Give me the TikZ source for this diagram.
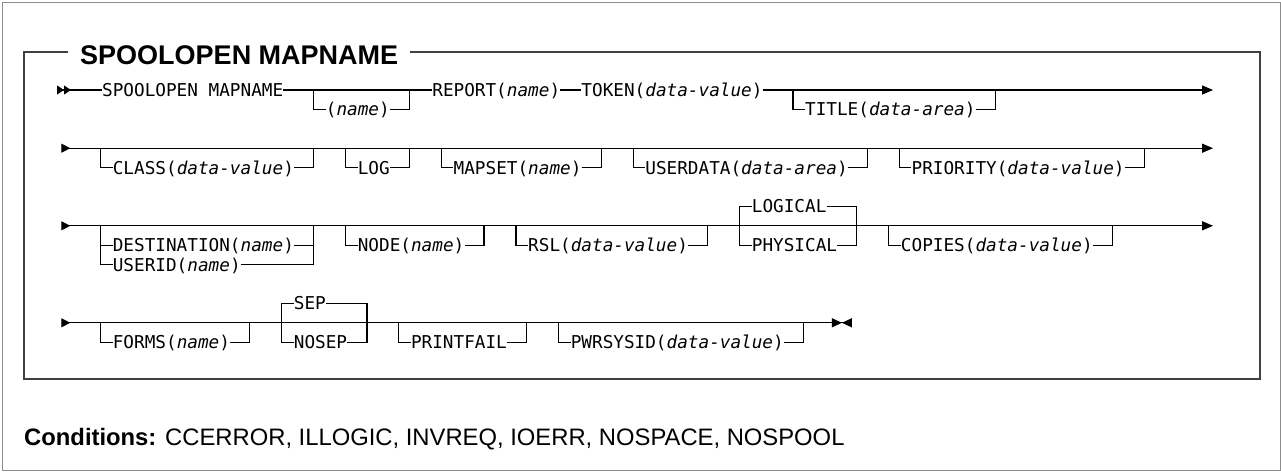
\documentclass[tikz,border=0pt]{standalone}
\usepackage{fontspec}
\setmainfont{Liberation Sans}
\newfontfamily\railfont{DejaVu Sans Mono}
\usetikzlibrary{arrows.meta}

\begin{document}
\begin{tikzpicture}[x=10.65pt,y=-19.4pt,
  rail/.style={draw=black,line width=1.2pt},
  kw/.style={font={\railfont\fontsize{17.69pt}{20pt}\selectfont},inner sep=0pt,
             text height=13pt,text depth=0pt,anchor=west,xshift=-4pt},
  railin/.style={{Triangle[reversed,length=7pt,width=9pt,sep=0pt]Triangle[reversed,length=7pt,width=9pt]}-},
  rowout/.style={-{Triangle[length=11pt,width=9pt]}},
  rowboth/.style={{Triangle[reversed,length=9pt,width=9pt]}-{Triangle[length=11pt,width=9pt]}},
  rowfinal/.style={{Triangle[reversed,length=9pt,width=9pt]}-{Triangle[length=10pt,width=9pt,sep=0pt]Triangle[reversed,length=10pt,width=9pt]}},
  box/.style={draw=black!75,line width=1.5pt},
  frame/.style={draw=black!45,line width=1pt},
  heading/.style={font={\bfseries\fontsize{27pt}{30pt}\selectfont},fill=white,anchor=west,
                  inner xsep=12pt,inner ysep=2pt,text height=19.3pt,text depth=0pt},
  cond/.style={font={\fontsize{23.8pt}{26pt}\selectfont},anchor=west,inner sep=0pt,
               text height=17pt,text depth=0pt}]

\useasboundingbox (-5.953,-4.639) rectangle (114.329,19.691);

% ---- frames and heading ----
\draw[frame] (-5.765,-4.485) rectangle (114.235,19.588);
\draw[box] (-3.7,-1.959) rectangle (112.357,14.897);
\node[heading] (head) at (0.432,-1.804) {SPOOLOPEN MAPNAME};

% ---- main lines (rows 0, 3, 7, 12) ----
\coordinate (in0) at (-0.6,0);
\coordinate (out0) at (107.95,0);
\foreach \r in {3,7,12} \coordinate (in\r) at (-0.2,\r);
\foreach \r in {3,7} \coordinate (out\r) at (107.95,\r);
\coordinate (out12) at (74.04,12);

\node[kw] (spm) at (4,0) {SPOOLOPEN MAPNAME};
\node[kw] (report) at (35,0) {REPORT(\textit{name})};
\node[kw] (token) at (49,0) {TOKEN(\textit{data-value})};

\draw[rail,railin] (in0) -- (spm.west);
\draw[rail] (spm.east) -- (report.west) (report.east) -- (token.west);
\draw[rail,rowout] (token.east) -- (out0);
\draw[rail,rowboth] (in3) -- (out3);
\draw[rail,rowboth] (in7) -- (out7);
\draw[rail,rowfinal] (in12) -- (out12);

% ---- optional items, one row below the main line ----
\foreach \nm/\txt/\f/\j/\r in {
    optname/{(\textit{name})}/23.5/32.5/0,
    title/{TITLE(\textit{data-area})}/68.5/87.5/0,
    class/{CLASS(\textit{data-value})}/3.5/23.5/3,
    log/{LOG}/26.5/32.5/3,
    mapset/{MAPSET(\textit{name})}/35.5/50.5/3,
    userdata/{USERDATA(\textit{data-area})}/53.5/75.5/3,
    priority/{PRIORITY(\textit{data-value})}/78.5/101.5/3,
    nodeopt/{NODE(\textit{name})}/26.5/39.5/7,
    rsl/{RSL(\textit{data-value})}/42.5/60.5/7,
    copies/{COPIES(\textit{data-value})}/77.5/98.5/7,
    forms/{FORMS(\textit{name})}/3.5/17.5/12,
    printfail/{PRINTFAIL}/31.5/43.5/12,
    pwrsysid/{PWRSYSID(\textit{data-value})}/46.5/69.5/12}
{
  \coordinate (\nm-f) at (\f,\r);
  \coordinate (\nm-j) at (\j,\r);
  \node[kw] (\nm) at (\f+1.5,\r+1) {\txt};
  \draw[rail] (\nm-f) |- (\nm.west) (\nm.east) -| (\nm-j);
}

% ---- choices ----
\coordinate (dest-f) at (3.5,7);
\coordinate (dest-j) at (23.5,7);
\node[kw] (dest) at (5,8) {DESTINATION(\textit{name})};
\node[kw] (userid) at (5,9) {USERID(\textit{name})};
\draw[rail] (dest-f) |- (userid.west) (userid.east) -| (dest-j);
\draw[rail] (dest-f |- dest.west) -- (dest.west) (dest.east) -- (dest-j |- dest.east);

\coordinate (lp-f) at (63.5,7);
\coordinate (lp-j) at (74.5,7);
\node[kw] (logical) at (65,6) {LOGICAL};
\node[kw] (physical) at (65,8) {PHYSICAL};
\draw[rail] (lp-f) |- (logical.west) (logical.east) -| (lp-j);
\draw[rail] (lp-f) |- (physical.west) (physical.east) -| (lp-j);

\coordinate (sep-f) at (20.5,12);
\coordinate (sep-j) at (28.5,12);
\node[kw] (sep) at (22,11) {SEP};
\node[kw] (nosep) at (22,13) {NOSEP};
\draw[rail] (sep-f) |- (sep.west) (sep.east) -| (sep-j);
\draw[rail] (sep-f) |- (nosep.west) (nosep.east) -| (sep-j);

% ---- conditions ----
\node[cond] (conds) at (-3.7,17.887)
  {\textbf{Conditions:} CCERROR, ILLOGIC, INVREQ, IOERR, NOSPACE, NOSPOOL};
\end{tikzpicture}
\end{document}
